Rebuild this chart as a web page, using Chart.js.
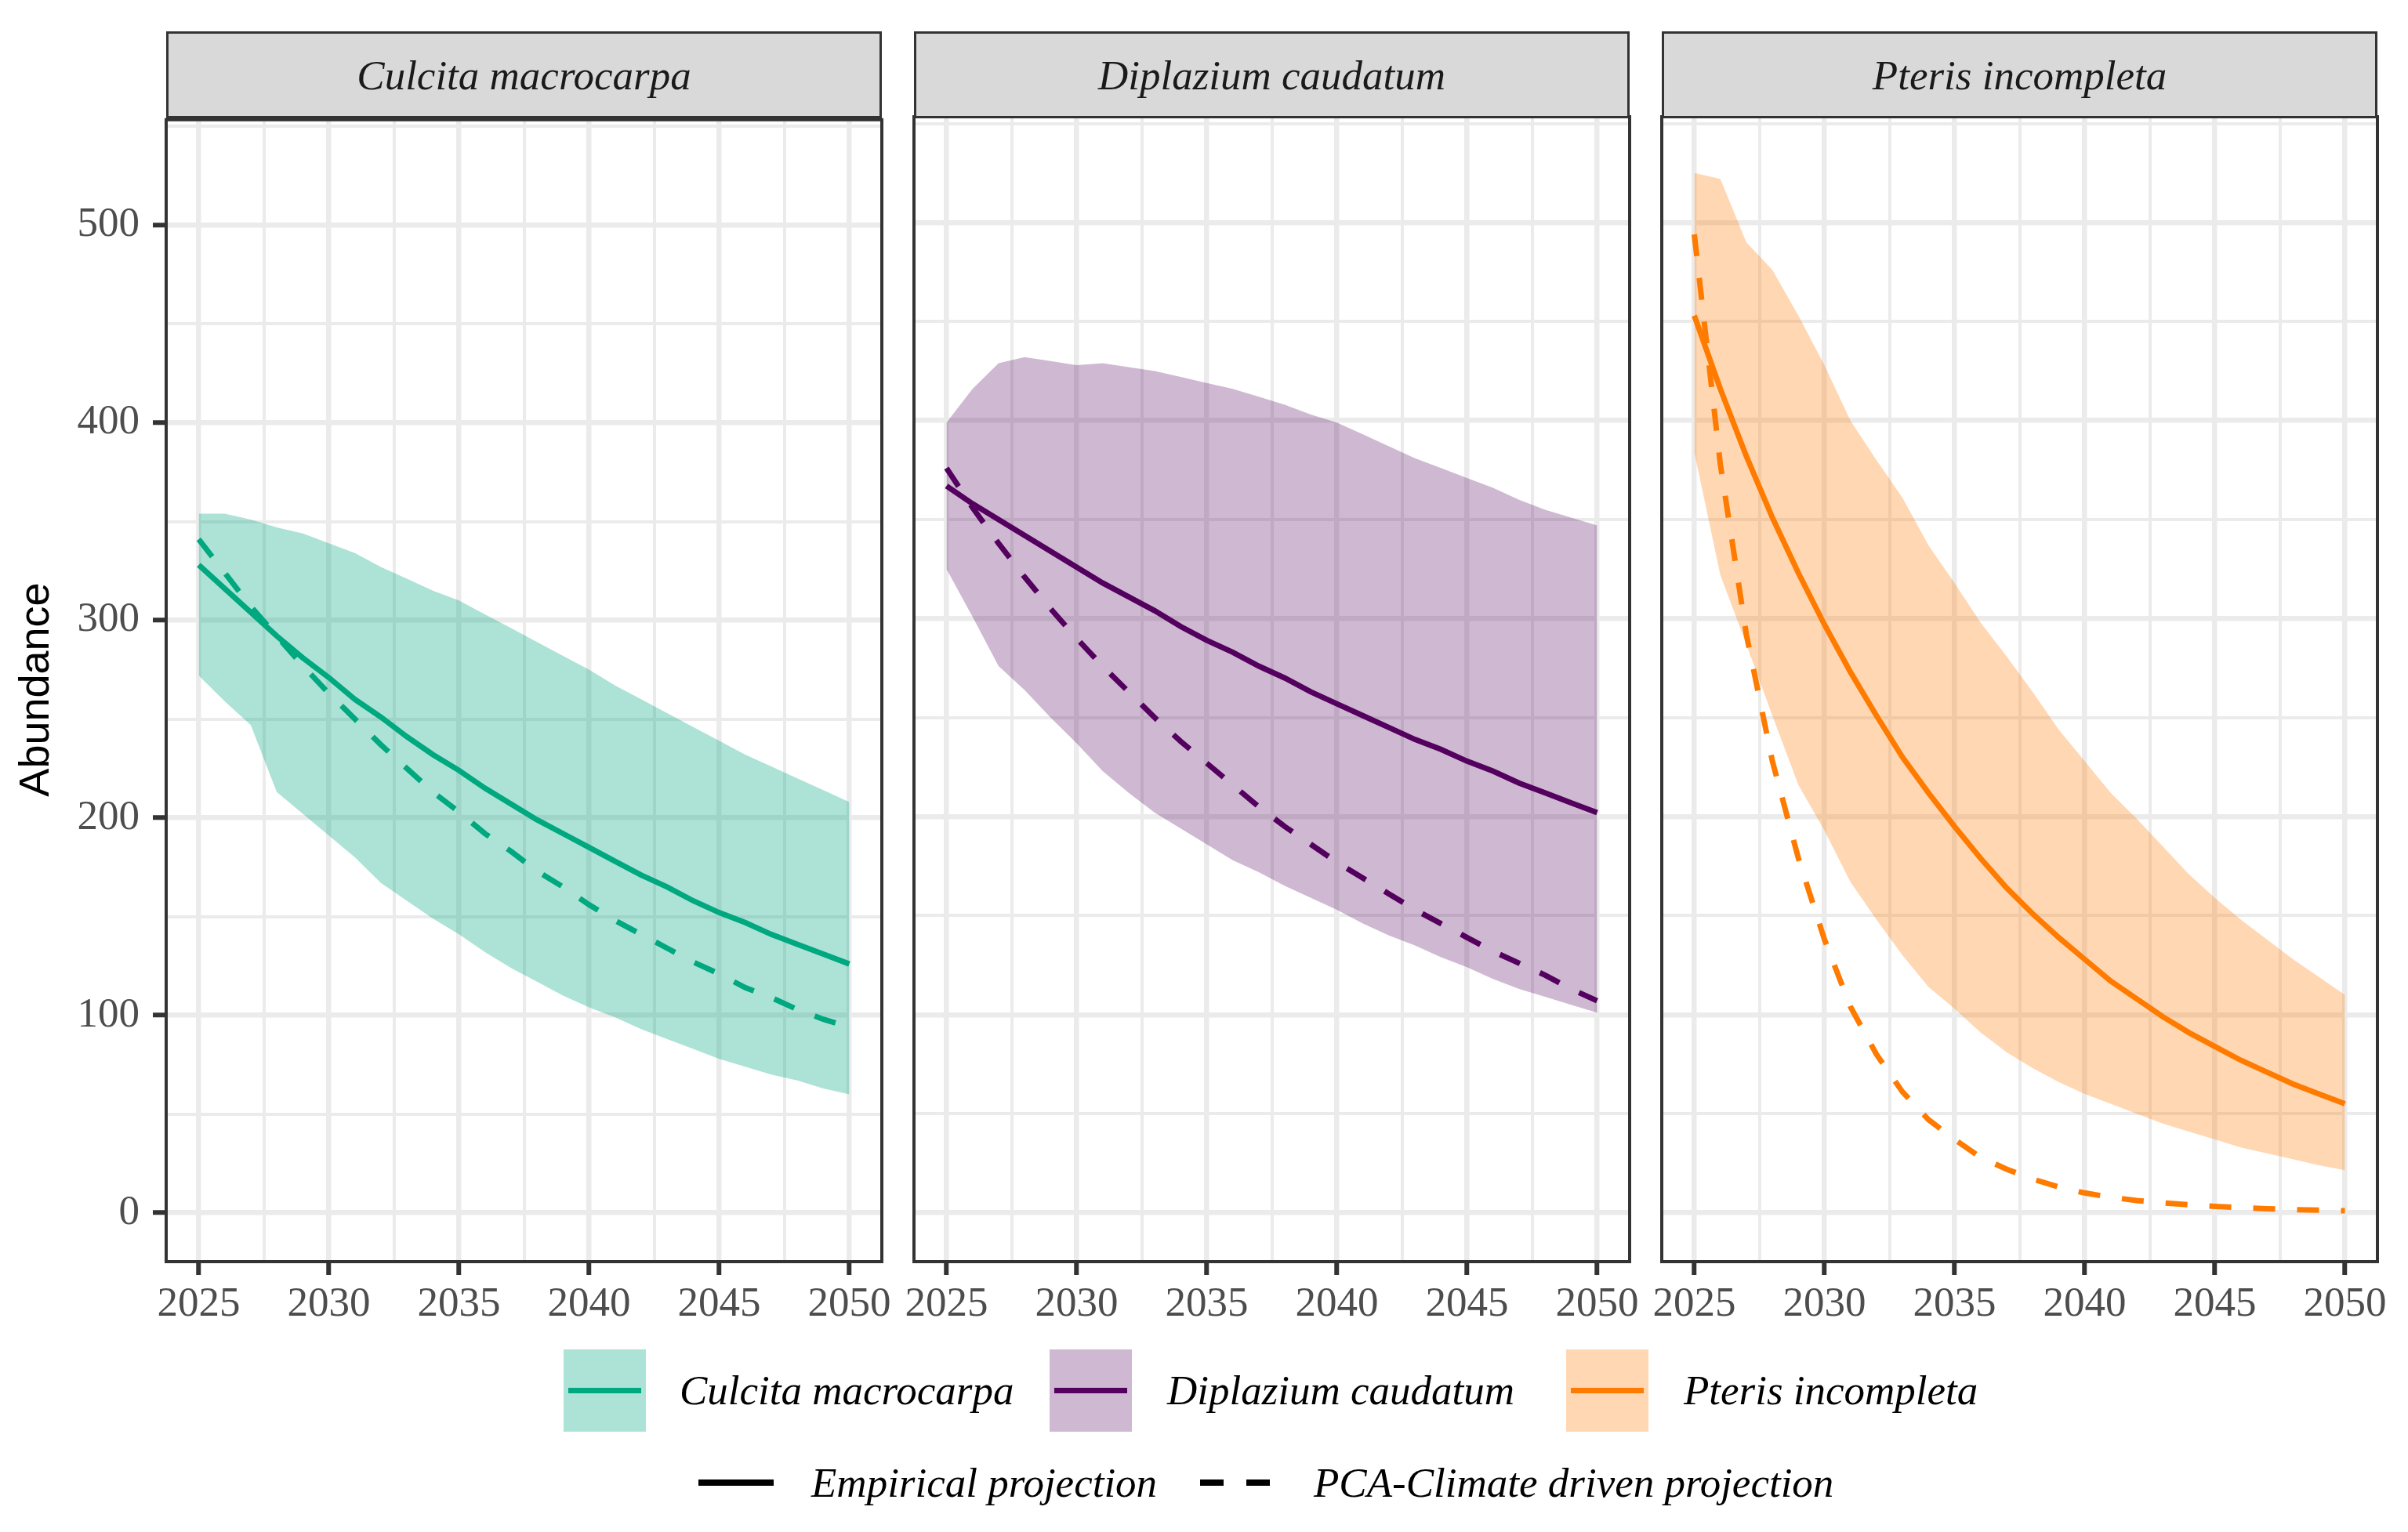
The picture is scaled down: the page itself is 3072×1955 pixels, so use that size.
<!DOCTYPE html>
<html lang="en">
<head>
<meta charset="UTF-8">
<title>Abundance projections</title>
<script src="https://cdn.jsdelivr.net/npm/chart.js"></script>
<style>
    body { margin: 0; background: #fff; }
    #page {
        position: relative;
        width: 3072px;
        height: 1955px;
        overflow: hidden;
        font-family: "Liberation Serif", serif;
    }
    canvas { position: absolute; }
    .strip {
        position: absolute;
        top: 40px;
        width: 913px;
        height: 111px;
        box-sizing: border-box;
        background: #d9d9d9;
        border: 3.5px solid #333;
        display: flex;
        align-items: center;
        justify-content: center;
        font-style: italic;
        font-size: 53px;
        color: #1a1a1a;
    }
    .ytitle {
        position: absolute;
        left: 43px;
        top: 880px;
        transform: translate(-50%, -50%) rotate(-90deg);
        font-family: "Liberation Sans", sans-serif;
        font-size: 54px;
        white-space: nowrap;
        color: #000;
    }
    .key { position: absolute; width: 105px; height: 105px; top: 1722px; }
    .key div { position: absolute; left: 6px; right: 6px; top: 49px; height: 7px; }
    .ltext {
        position: absolute;
        font-style: italic;
        font-size: 53px;
        line-height: 1;
        white-space: nowrap;
        transform: translateY(-50%);
        color: #000;
    }
    .bar { position: absolute; height: 8px; background: #000; }
</style>
</head>
<body>
<div id="page">
    <canvas id="panel0" width="1073" height="1626" style="left:92px; top:104px"></canvas>
    <canvas id="panel1" width="1073" height="1626" style="left:1046px; top:104px"></canvas>
    <canvas id="panel2" width="1073" height="1626" style="left:2000px; top:104px"></canvas>

    <div class="strip" style="left:212px">Culcita macrocarpa</div>
    <div class="strip" style="left:1166px">Diplazium caudatum</div>
    <div class="strip" style="left:2120px">Pteris incompleta</div>

    <div class="ytitle">Abundance</div>

    <!-- legend: species -->
    <div class="key" style="left:719px; background:rgba(0,168,127,0.32)"><div style="background:#00a87f"></div></div>
    <div class="ltext" style="left:867px; top:1774px">Culcita macrocarpa</div>
    <div class="key" style="left:1339px; background:rgba(84,0,94,0.28)"><div style="background:#54005e"></div></div>
    <div class="ltext" style="left:1489px; top:1774px">Diplazium caudatum</div>
    <div class="key" style="left:1998px; background:rgba(255,123,0,0.3)"><div style="background:#ff7b00"></div></div>
    <div class="ltext" style="left:2148px; top:1774px">Pteris incompleta</div>

    <!-- legend: projection type -->
    <div class="bar" style="left:891px; width:96px; top:1888px"></div>
    <div class="ltext" style="left:1035px; top:1892px">Empirical projection</div>
    <div class="bar" style="left:1531px; width:30px; top:1888px"></div>
    <div class="bar" style="left:1590px; width:30px; top:1888px"></div>
    <div class="ltext" style="left:1676px; top:1892px">PCA-Climate driven projection</div>
</div>

<script>
    const years = [2025, 2026, 2027, 2028, 2029, 2030, 2031, 2032, 2033, 2034, 2035, 2036, 2037,
                   2038, 2039, 2040, 2041, 2042, 2043, 2044, 2045, 2046, 2047, 2048, 2049, 2050];

    // Culcita macrocarpa
    const culcitaEmp  = [328, 316, 304, 292, 281, 271, 260, 251, 241, 232, 224, 215, 207, 199, 192, 185, 178, 171, 165, 158, 152, 147, 141, 136, 131, 126];
    const culcitaPca  = [341, 324, 307, 292, 277, 263, 250, 237, 225, 213, 203, 192, 183, 173, 165, 156, 148, 141, 134, 127, 121, 114, 109, 103, 98, 94];
    const culcitaHigh = [354, 354, 351, 347, 344, 339, 334, 327, 321, 315, 310, 303, 296, 289, 282, 275, 267, 260, 253, 246, 239, 232, 226, 220, 214, 208];
    const culcitaLow  = [272, 259, 247, 213, 202, 191, 180, 167, 158, 149, 141, 132, 124, 117, 110, 104, 99, 93, 88, 83, 78, 74, 70, 67, 63, 60];

    // Diplazium caudatum
    const diplaziumEmp  = [367, 358, 350, 342, 334, 326, 318, 311, 304, 296, 289, 283, 276, 270, 263, 257, 251, 245, 239, 234, 228, 223, 217, 212, 207, 202];
    const diplaziumPca  = [376, 356, 338, 321, 305, 290, 276, 263, 250, 238, 227, 216, 205, 195, 186, 177, 169, 161, 153, 146, 139, 132, 126, 120, 113, 107];
    const diplaziumHigh = [399, 416, 429, 432, 430, 428, 429, 427, 425, 422, 419, 416, 412, 408, 403, 399, 393, 387, 381, 376, 371, 366, 360, 355, 351, 347];
    const diplaziumLow  = [325, 301, 276, 264, 250, 237, 223, 212, 202, 194, 186, 178, 172, 165, 159, 153, 146, 140, 135, 129, 124, 118, 113, 109, 105, 101];

    // Pteris incompleta
    const pterisEmp  = [453, 416, 382, 351, 323, 297, 273, 251, 230, 212, 195, 179, 164, 151, 139, 128, 117, 108, 99, 91, 84, 77, 71, 65, 60, 55];
    const pterisPca  = [494, 378, 292, 228, 179, 138, 104, 80, 61, 47, 37, 28, 22, 17, 13, 10, 7.8, 6.2, 5, 4, 3.2, 2.5, 2, 1.6, 1.3, 1.0];
    const pterisHigh = [525, 522, 490, 476, 453, 428, 400, 380, 361, 337, 318, 298, 281, 263, 244, 228, 212, 199, 185, 171, 159, 148, 138, 128, 119, 110];
    const pterisLow  = [384, 322, 287, 251, 216, 193, 167, 148, 130, 114, 103, 91, 81, 73, 66, 60, 55, 50, 45, 41, 37, 33, 30, 27, 24, 21.5];

    // grid breaks (major + minor)
    const xBreaks = [2025, 2027.5, 2030, 2032.5, 2035, 2037.5, 2040, 2042.5, 2045, 2047.5, 2050];
    const yBreaks = [0, 50, 100, 150, 200, 250, 300, 350, 400, 450, 500, 550];

    const tickFont = { family: "Liberation Serif", size: 53 };

    const panelBorder = {
        id: 'panelBorder',
        afterDatasetsDraw(chart) {
            const { ctx, chartArea: a } = chart;
            ctx.save();
            ctx.strokeStyle = '#333333';
            ctx.lineWidth = 4;
            ctx.strokeRect(a.left, a.top, a.right - a.left, a.bottom - a.top);
            ctx.restore();
        }
    };

    function makePanel(id, emp, pca, high, low, line, band, showY) {
        const pts = arr => years.map((yr, i) => ({ x: yr, y: arr[i] }));
        const isMajorX = c => c.tick && c.tick.value % 5 === 0;
        const isMajorY = c => c.tick && c.tick.value % 100 === 0;

        new Chart(document.getElementById(id), {
            type: 'line',
            data: {
                datasets: [
                    { data: pts(emp), borderColor: line, borderWidth: 7 },
                    { data: pts(pca), borderColor: line, borderWidth: 7, borderDash: [28, 28] },
                    { data: pts(high), borderColor: 'rgba(0,0,0,0)', borderWidth: 1, backgroundColor: band, fill: '+1' },
                    { data: pts(low), borderColor: 'rgba(0,0,0,0)', borderWidth: 1, fill: false }
                ]
            },
            options: {
                responsive: false,
                animation: false,
                devicePixelRatio: 1,
                events: [],
                // top padding leaves room for the top tick label so the plot area stays put
                layout: { padding: { left: 0, right: 40, top: 45, bottom: 10 } },
                elements: {
                    point: { radius: 0 },
                    line: { tension: 0, borderCapStyle: 'butt' }
                },
                plugins: {
                    legend: { display: false },
                    tooltip: { enabled: false },
                    filler: { drawTime: 'beforeDatasetsDraw' }
                },
                scales: {
                    x: {
                        type: 'linear',
                        min: 2023.75,
                        max: 2051.25,
                        afterBuildTicks: axis => { axis.ticks = xBreaks.map(v => ({ value: v })); },
                        afterFit: axis => { axis.height = 110; },
                        border: { display: false },
                        grid: {
                            color: '#ebebeb',
                            lineWidth: c => isMajorX(c) ? 6.5 : 4,
                            tickColor: c => isMajorX(c) ? '#333333' : 'rgba(0,0,0,0)',
                            tickWidth: 6,
                            tickLength: 17
                        },
                        ticks: {
                            autoSkip: false,
                            maxRotation: 0,
                            padding: 6,
                            color: '#4d4d4d',
                            font: tickFont,
                            callback: v => v % 5 === 0 ? String(v) : ''
                        }
                    },
                    y: {
                        type: 'linear',
                        min: -24.7,
                        max: 553.4,
                        afterBuildTicks: axis => { axis.ticks = yBreaks.map(v => ({ value: v })); },
                        afterFit: axis => { axis.width = 120; },
                        border: { display: false },
                        grid: {
                            color: '#ebebeb',
                            lineWidth: c => isMajorY(c) ? 6.5 : 4,
                            drawTicks: showY,
                            tickColor: c => isMajorY(c) ? '#333333' : 'rgba(0,0,0,0)',
                            tickWidth: 6,
                            tickLength: 17
                        },
                        ticks: {
                            display: showY,
                            autoSkip: false,
                            padding: 17,
                            color: '#4d4d4d',
                            font: tickFont,
                            callback: v => v % 100 === 0 ? String(v) : ''
                        }
                    }
                }
            },
            plugins: [panelBorder]
        });
    }

    makePanel('panel0', culcitaEmp, culcitaPca, culcitaHigh, culcitaLow,
              '#00a87f', 'rgba(0,168,127,0.32)', true);
    makePanel('panel1', diplaziumEmp, diplaziumPca, diplaziumHigh, diplaziumLow,
              '#54005e', 'rgba(84,0,94,0.28)', false);
    makePanel('panel2', pterisEmp, pterisPca, pterisHigh, pterisLow,
              '#ff7b00', 'rgba(255,123,0,0.3)', false);
</script>
</body>
</html>
